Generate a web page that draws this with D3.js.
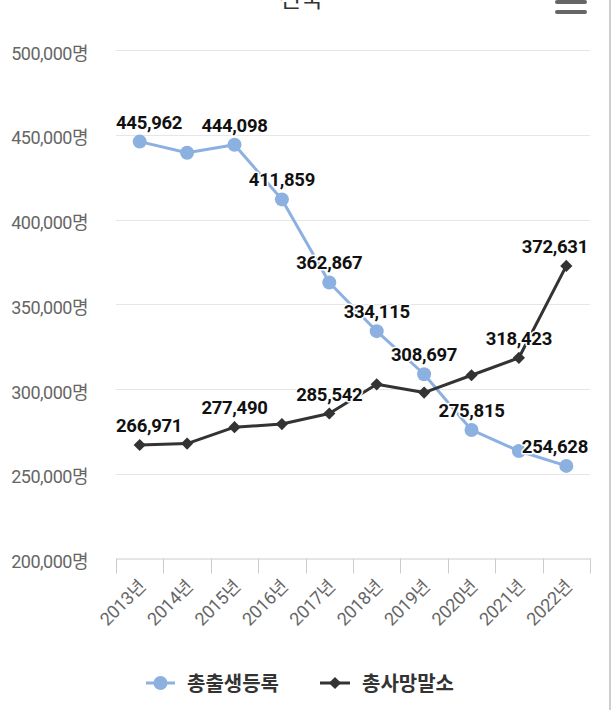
<!DOCTYPE html>
<html><head><meta charset="utf-8">
<script src="https://cdn.jsdelivr.net/npm/d3@7"></script>
<style>
html,body{margin:0;padding:0;background:#fff;}
svg{display:block;}
</style></head>
<body>
<svg id="c" width="614" height="710"></svg>
<script>
const years = ["2013년","2014년","2015년","2016년","2017년","2018년","2019년","2020년","2021년","2022년"];
const births = [445962, 439400, 444098, 411859, 362867, 334115, 308697, 275815, 263400, 254628];
const deaths = [266971, 267800, 277490, 279300, 285542, 302750, 297900, 308100, 318423, 372631];
const birthLabels = [true, false, true, true, true, true, true, true, false, true];
const deathLabels = [true, false, true, false, true, false, false, false, true, true];
const yTicks = [200000, 250000, 300000, 350000, 400000, 450000, 500000];
const seriesNames = ["총출생등록", "총사망말소"];
const colors = ["#8cb1e0", "#333333"];
const title = "전국";

const svg = d3.select("#c");
const W = 614, H = 710;
const plot = {left: 116, right: 590, top: 50, bottom: 558.5};
const FONT = "Roboto, 'Noto Sans CJK KR', sans-serif";

const x = d3.scaleBand().domain(years).range([plot.left, plot.right]);
const y = d3.scaleLinear().domain([200000, 500000]).range([plot.bottom, plot.top]);

// right border
svg.append("line").attr("x1", 610).attr("x2", 610).attr("y1", 0).attr("y2", H)
  .attr("stroke", "#cfcfcf").attr("stroke-width", 2);

// title (partly cut off at the top, as in the reference)
svg.append("text").attr("x", 301).attr("y", 7).attr("text-anchor", "middle")
  .attr("font-family", FONT).attr("font-size", 24).attr("fill", "#333").text(title);

// menu icon
[-8, 2, 12].forEach(v => {
  svg.append("line").attr("x1", 557).attr("x2", 585).attr("y1", v).attr("y2", v)
    .attr("stroke", "#666").attr("stroke-width", 4).attr("stroke-linecap", "round");
});

// gridlines
svg.append("g").selectAll("line").data(yTicks.filter(d => d !== 200000)).join("line")
  .attr("x1", plot.left).attr("x2", plot.right)
  .attr("y1", d => Math.round(y(d)) + 0.5).attr("y2", d => Math.round(y(d)) + 0.5)
  .attr("stroke", "#e6e6e6").attr("stroke-width", 1);

// y axis labels
const fmt = d3.format(",");
const yAxis = d3.axisLeft(y).tickValues(yTicks).tickSize(0).tickPadding(0)
  .tickFormat(d => fmt(d) + "명");
const yg = svg.append("g").attr("transform", `translate(${plot.left - 28},0)`).call(yAxis);
yg.select(".domain").remove();
yg.selectAll("text").attr("font-family", FONT).attr("font-size", 18)
  .attr("fill", "#666").attr("dy", "0.5em").attr("letter-spacing", -0.5);

// x axis
const xAxis = d3.axisBottom(x).tickSize(0).tickPadding(0);
const xg = svg.append("g").attr("transform", `translate(0,${plot.bottom})`).call(xAxis);
xg.select(".domain").attr("stroke", "#cccccc").attr("stroke-width", 1);
xg.selectAll("text").attr("font-family", FONT).attr("font-size", 18).attr("fill", "#666")
  .attr("text-anchor", "end").attr("dy", 0).attr("y", 0)
  .attr("transform", `translate(7,29) rotate(-45)`)
  .attr("letter-spacing", -0.3);
// tick marks at band edges
const edges = years.map(d => x(d)).concat([x(years[years.length-1]) + x.bandwidth()]);
xg.append("g").selectAll("line").data(edges).join("line")
  .attr("x1", d => Math.round(d) + 0.5).attr("x2", d => Math.round(d) + 0.5)
  .attr("y1", 0).attr("y2", 15).attr("stroke", "#cccccc");

const cx = d => x(d) + x.bandwidth() / 2;
const line = d3.line().x(d => cx(d.year)).y(d => y(d.v));

const data = [
  years.map((yr, i) => ({year: yr, v: births[i], show: birthLabels[i]})),
  years.map((yr, i) => ({year: yr, v: deaths[i], show: deathLabels[i]}))
];

data.forEach((s, si) => {
  svg.append("path").datum(s).attr("d", line).attr("fill", "none")
    .attr("stroke", colors[si]).attr("stroke-width", 3).attr("stroke-linejoin", "round");
  const g = svg.append("g");
  if (si === 0) {
    g.selectAll("circle").data(s).join("circle")
      .attr("cx", d => cx(d.year)).attr("cy", d => y(d.v)).attr("r", 7)
      .attr("fill", colors[si]);
  } else {
    g.selectAll("path").data(s).join("path")
      .attr("d", d3.symbol().type(d3.symbolDiamond2).size(95))
      .attr("transform", d => `translate(${cx(d.year)},${y(d.v)})`)
      .attr("fill", colors[si]);
  }
});

// data labels
data.forEach((s, si) => {
  s.filter(d => d.show).forEach(d => {
    const t = svg.append("text").attr("font-family", FONT).attr("font-size", 18.5)
      .attr("font-weight", "bold").attr("fill", "#111").attr("letter-spacing", -0.3)
      .attr("stroke", "#fff").attr("stroke-width", 3).attr("paint-order", "stroke")
      .attr("stroke-linejoin", "round")
      .attr("text-anchor", "middle").attr("y", y(d.v) - 13).text(fmt(d.v));
    const w = t.node().getComputedTextLength();
    let c = cx(d.year);
    if (c - w/2 < plot.left) c = plot.left + w/2;
    if (c + w/2 > plot.right - 2) c = plot.right - 2 - w/2;
    t.attr("x", c);
  });
});

// legend
const ly = 683;
const leg = svg.append("g");
leg.append("line").attr("x1", 146).attr("x2", 175).attr("y1", ly).attr("y2", ly)
  .attr("stroke", colors[0]).attr("stroke-width", 3);
leg.append("circle").attr("cx", 160.5).attr("cy", ly).attr("r", 7).attr("fill", colors[0]);
leg.append("text").attr("x", 187).attr("y", ly + 7.5).attr("font-family", FONT)
  .attr("font-size", 20).attr("font-weight", "bold").attr("fill", "#333").text(seriesNames[0]);
leg.append("line").attr("x1", 320).attr("x2", 350).attr("y1", ly).attr("y2", ly)
  .attr("stroke", colors[1]).attr("stroke-width", 3);
leg.append("path").attr("d", d3.symbol().type(d3.symbolDiamond2).size(95))
  .attr("transform", `translate(335,${ly})`).attr("fill", colors[1]);
leg.append("text").attr("x", 362).attr("y", ly + 7.5).attr("font-family", FONT)
  .attr("font-size", 20).attr("font-weight", "bold").attr("fill", "#333").text(seriesNames[1]);
</script>
</body></html>
